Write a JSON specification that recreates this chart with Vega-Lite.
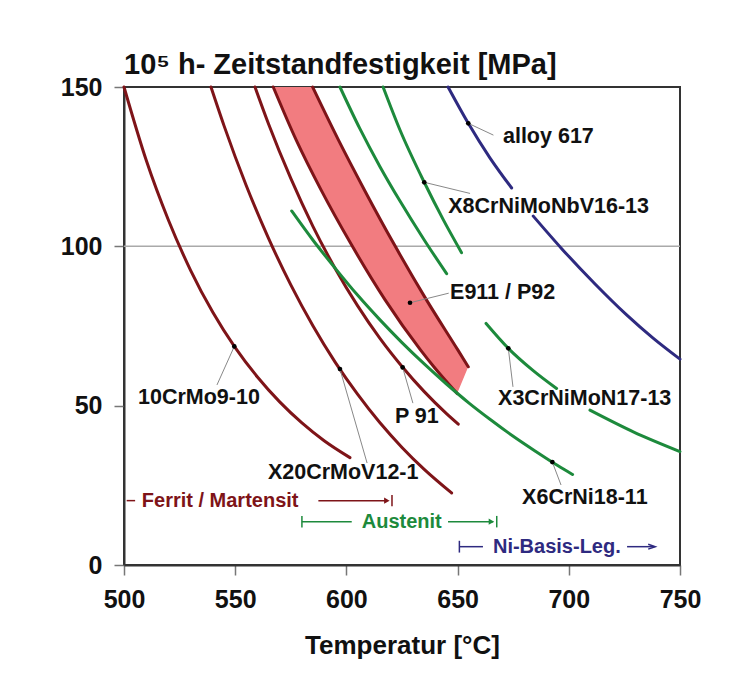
{
  "$schema": "https://vega.github.io/schema/vega-lite/v6.json",
  "autosize": {"type": "none"},
  "width": 556,
  "height": 478,
  "padding": {"left": 124, "top": 87, "right": 63, "bottom": 124},
  "background": "white",
  "config": {
    "font": "Liberation Sans",
    "view": {"stroke": "#333333", "strokeWidth": 2},
    "axis": {
      "labelFont": "Liberation Sans", "labelFontSize": 25, "labelFontWeight": "bold", "labelColor": "#111111",
      "titleFont": "Liberation Sans", "titleFontSize": 26, "titleFontWeight": "bold", "titleColor": "#111111",
      "tickSize": 10, "tickColor": "#777777", "tickWidth": 1.5, "domainColor": "#333333", "domainWidth": 2,
      "grid": false, "labelPadding": 12, "labelFlush": false
    }
  },
  "title": {
    "text": "10⁵ h- Zeitstandfestigkeit [MPa]",
    "anchor": "start", "frame": "group", "font": "Liberation Sans", "fontSize": 29, "fontWeight": "bold",
    "color": "#111111", "offset": 4, "dy": 9
  },
  "datasets": {
    "curves": [
      {"id": "10CrMo9-10", "g": "F", "t": 500, "s": 150},
      {"id": "10CrMo9-10", "g": "F", "t": 510, "s": 127},
      {"id": "10CrMo9-10", "g": "F", "t": 520, "s": 108.2},
      {"id": "10CrMo9-10", "g": "F", "t": 530, "s": 92.4},
      {"id": "10CrMo9-10", "g": "F", "t": 540, "s": 79.2},
      {"id": "10CrMo9-10", "g": "F", "t": 550, "s": 68.2},
      {"id": "10CrMo9-10", "g": "F", "t": 560, "s": 59},
      {"id": "10CrMo9-10", "g": "F", "t": 570, "s": 51.2},
      {"id": "10CrMo9-10", "g": "F", "t": 580, "s": 44.6},
      {"id": "10CrMo9-10", "g": "F", "t": 590, "s": 39},
      {"id": "10CrMo9-10", "g": "F", "t": 601.6, "s": 33.7},
      {"id": "X20CrMoV12-1", "g": "F", "t": 539.1, "s": 150},
      {"id": "X20CrMoV12-1", "g": "F", "t": 545, "s": 137.8},
      {"id": "X20CrMoV12-1", "g": "F", "t": 555, "s": 119},
      {"id": "X20CrMoV12-1", "g": "F", "t": 565, "s": 102.5},
      {"id": "X20CrMoV12-1", "g": "F", "t": 575, "s": 87.9},
      {"id": "X20CrMoV12-1", "g": "F", "t": 585, "s": 75},
      {"id": "X20CrMoV12-1", "g": "F", "t": 595, "s": 63.6},
      {"id": "X20CrMoV12-1", "g": "F", "t": 605, "s": 53.6},
      {"id": "X20CrMoV12-1", "g": "F", "t": 615, "s": 44.7},
      {"id": "X20CrMoV12-1", "g": "F", "t": 625, "s": 36.9},
      {"id": "X20CrMoV12-1", "g": "F", "t": 635, "s": 30},
      {"id": "X20CrMoV12-1", "g": "F", "t": 647.3, "s": 22.6},
      {"id": "P 91", "g": "F", "t": 558.9, "s": 150},
      {"id": "P 91", "g": "F", "t": 565, "s": 138.4},
      {"id": "P 91", "g": "F", "t": 575, "s": 121.3},
      {"id": "P 91", "g": "F", "t": 585, "s": 106.2},
      {"id": "P 91", "g": "F", "t": 595, "s": 93},
      {"id": "P 91", "g": "F", "t": 605, "s": 81.4},
      {"id": "P 91", "g": "F", "t": 615, "s": 71.2},
      {"id": "P 91", "g": "F", "t": 625, "s": 62.3},
      {"id": "P 91", "g": "F", "t": 635, "s": 54.4},
      {"id": "P 91", "g": "F", "t": 645, "s": 47.5},
      {"id": "P 91", "g": "F", "t": 650.3, "s": 44.2},
      {"id": "E911 L", "g": "F", "t": 567.1, "s": 150},
      {"id": "E911 L", "g": "F", "t": 577.4, "s": 133.4},
      {"id": "E911 L", "g": "F", "t": 588.6, "s": 117.7},
      {"id": "E911 L", "g": "F", "t": 602.1, "s": 100.7},
      {"id": "E911 L", "g": "F", "t": 617.4, "s": 83.2},
      {"id": "E911 L", "g": "F", "t": 633.3, "s": 67.5},
      {"id": "E911 L", "g": "F", "t": 639.3, "s": 62.2},
      {"id": "E911 L", "g": "F", "t": 649.8, "s": 53.8},
      {"id": "E911 R", "g": "F", "t": 584.8, "s": 150},
      {"id": "E911 R", "g": "F", "t": 596.4, "s": 133.4},
      {"id": "E911 R", "g": "F", "t": 608.1, "s": 117.7},
      {"id": "E911 R", "g": "F", "t": 621.4, "s": 100.7},
      {"id": "E911 R", "g": "F", "t": 636, "s": 83.2},
      {"id": "E911 R", "g": "F", "t": 650.1, "s": 67.5},
      {"id": "E911 R", "g": "F", "t": 654.8, "s": 62.2},
      {"id": "X6CrNi18-11", "g": "A", "t": 575.4, "s": 111.1},
      {"id": "X6CrNi18-11", "g": "A", "t": 585, "s": 101.9},
      {"id": "X6CrNi18-11", "g": "A", "t": 595, "s": 93.1},
      {"id": "X6CrNi18-11", "g": "A", "t": 605, "s": 84.7},
      {"id": "X6CrNi18-11", "g": "A", "t": 615, "s": 77},
      {"id": "X6CrNi18-11", "g": "A", "t": 625, "s": 69.8},
      {"id": "X6CrNi18-11", "g": "A", "t": 635, "s": 63.1},
      {"id": "X6CrNi18-11", "g": "A", "t": 645, "s": 56.8},
      {"id": "X6CrNi18-11", "g": "A", "t": 655, "s": 50.9},
      {"id": "X6CrNi18-11", "g": "A", "t": 665, "s": 45.5},
      {"id": "X6CrNi18-11", "g": "A", "t": 675, "s": 40.4},
      {"id": "X6CrNi18-11", "g": "A", "t": 685, "s": 35.7},
      {"id": "X6CrNi18-11", "g": "A", "t": 695, "s": 31.2},
      {"id": "X6CrNi18-11", "g": "A", "t": 701.7, "s": 28.4},
      {"id": "Austenit 2", "g": "A", "t": 597.1, "s": 150},
      {"id": "Austenit 2", "g": "A", "t": 606, "s": 137},
      {"id": "Austenit 2", "g": "A", "t": 615.1, "s": 125},
      {"id": "Austenit 2", "g": "A", "t": 624.1, "s": 114.2},
      {"id": "Austenit 2", "g": "A", "t": 635, "s": 102},
      {"id": "Austenit 2", "g": "A", "t": 645.1, "s": 91.4},
      {"id": "X8CrNiMoNbV16-13", "g": "A", "t": 616.5, "s": 150},
      {"id": "X8CrNiMoNbV16-13", "g": "A", "t": 624.1, "s": 136.5},
      {"id": "X8CrNiMoNbV16-13", "g": "A", "t": 635, "s": 120.1},
      {"id": "X8CrNiMoNbV16-13", "g": "A", "t": 643.6, "s": 108.3},
      {"id": "X8CrNiMoNbV16-13", "g": "A", "t": 651.8, "s": 98},
      {"id": "X3CrNiMoN17-13 a", "g": "A", "t": 662.8, "s": 75.8},
      {"id": "X3CrNiMoN17-13 a", "g": "A", "t": 672.8, "s": 68},
      {"id": "X3CrNiMoN17-13 a", "g": "A", "t": 684, "s": 61},
      {"id": "X3CrNiMoN17-13 a", "g": "A", "t": 694.5, "s": 55.4},
      {"id": "X3CrNiMoN17-13 b", "g": "A", "t": 709.5, "s": 48.6},
      {"id": "X3CrNiMoN17-13 b", "g": "A", "t": 729, "s": 41.8},
      {"id": "X3CrNiMoN17-13 b", "g": "A", "t": 750, "s": 35.6},
      {"id": "alloy 617 a", "g": "N", "t": 645.7, "s": 150},
      {"id": "alloy 617 a", "g": "N", "t": 654.8, "s": 138.6},
      {"id": "alloy 617 a", "g": "N", "t": 664.6, "s": 127.7},
      {"id": "alloy 617 a", "g": "N", "t": 674.3, "s": 118.3},
      {"id": "alloy 617 b", "g": "N", "t": 684, "s": 109.5},
      {"id": "alloy 617 b", "g": "N", "t": 696.9, "s": 99.2},
      {"id": "alloy 617 b", "g": "N", "t": 711.8, "s": 88.2},
      {"id": "alloy 617 b", "g": "N", "t": 726, "s": 78.5},
      {"id": "alloy 617 b", "g": "N", "t": 737.9, "s": 71.2},
      {"id": "alloy 617 b", "g": "N", "t": 750, "s": 64.6}
    ],
    "band": [
      {"s": 150, "lo": 567.1, "hi": 584.8},
      {"s": 133.4, "lo": 577.4, "hi": 596.4},
      {"s": 117.7, "lo": 588.6, "hi": 608.1},
      {"s": 100.7, "lo": 602.1, "hi": 621.4},
      {"s": 83.2, "lo": 617.4, "hi": 636},
      {"s": 67.5, "lo": 633.3, "hi": 650.1},
      {"s": 62.2, "lo": 639.3, "hi": 654.8},
      {"s": 53.8, "lo": 649.8, "hi": 649.8}
    ],
    "labels": [
      {"name": "alloy 617", "dt": 654.8, "ds": 138.6, "lt": 666.1, "ls": 134.9, "tt": 670.4, "ts": 134.4},
      {"name": "X8CrNiMoNbV16-13", "dt": 635, "ds": 120.1, "lt": 655.6, "ls": 116.6, "tt": 645.8, "ts": 112.4},
      {"name": "E911 / P92", "dt": 628.6, "ds": 82.3, "lt": 646, "ls": 85.3, "tt": 646.6, "ts": 85.3},
      {"name": "10CrMo9-10", "dt": 549.6, "ds": 68.6, "lt": 541.8, "ls": 56.5, "tt": 506.3, "ts": 52.4},
      {"name": "X20CrMoV12-1", "dt": 597.1, "ds": 61.5, "lt": 609.3, "ls": 32, "tt": 564.7, "ts": 28.9},
      {"name": "P 91", "dt": 625.3, "ds": 62, "lt": 629.9, "ls": 50.8, "tt": 621.8, "ts": 46.4},
      {"name": "X3CrNiMoN17-13", "dt": 672.8, "ds": 68, "lt": 674.9, "ls": 55.9, "tt": 668.2, "ts": 52.1},
      {"name": "X6CrNi18-11", "dt": 692.6, "ds": 32.3, "lt": 696.5, "ls": 25.1, "tt": 679, "ts": 21}
    ],
    "rangeLines": [
      {"g": "F", "t": 501.2, "t2": 505, "s": 20.2, "s2": 20.2},
      {"g": "F", "t": 587.4, "t2": 618, "s": 20.2, "s2": 20.2},
      {"g": "F", "t": 620.5, "t2": 620.5, "s": 18.4, "s2": 22},
      {"g": "A", "t": 580, "t2": 580, "s": 11.8, "s2": 15.4},
      {"g": "A", "t": 580, "t2": 602.4, "s": 13.6, "s2": 13.6},
      {"g": "A", "t": 645.7, "t2": 666, "s": 13.6, "s2": 13.6},
      {"g": "A", "t": 667.6, "t2": 667.6, "s": 11.8, "s2": 15.4},
      {"g": "N", "t": 650.8, "t2": 650.8, "s": 3.9, "s2": 7.6},
      {"g": "N", "t": 650.8, "t2": 661.4, "s": 5.75, "s2": 5.75},
      {"g": "N", "t": 726.2, "t2": 738.5, "s": 5.75, "s2": 5.75}
    ],
    "rangeText": [
      {"g": "F", "name": "Ferrit / Martensit", "t": 508, "s": 20.2},
      {"g": "A", "name": "Austenit", "t": 606.9, "s": 13.6},
      {"g": "N", "name": "Ni-Basis-Leg.", "t": 665.9, "s": 5.75}
    ],
    "arrowHeads": [
      {"g": "F", "t": 618.2, "s": 20.2},
      {"g": "A", "t": 665.2, "s": 13.6}
    ],
    "arrowOpen": [
      {"g": "N", "t": 737.3, "s": 5.75}
    ]
  },
  "encoding": {
    "x": {"type": "quantitative", "scale": {"domain": [500, 750], "nice": false, "zero": false}},
    "y": {"type": "quantitative", "scale": {"domain": [0, 150], "nice": false, "zero": false}}
  },
  "layer": [
    {
      "data": {"values": [{"s": 100}]},
      "mark": {"type": "rule", "color": "#aaaaaa", "strokeWidth": 1.5},
      "encoding": {"y": {"field": "s", "type": "quantitative"}}
    },
    {
      "data": {"name": "band"},
      "mark": {"type": "area", "orient": "horizontal", "color": "#f27c80", "opacity": 1, "interpolate": "linear"},
      "encoding": {
        "y": {"field": "s", "type": "quantitative"},
        "x": {"field": "lo", "type": "quantitative", "axis": {"title": "Temperatur [°C]", "values": [500, 550, 600, 650, 700, 750], "titlePadding": 20}},
        "x2": {"field": "hi"}
      }
    },
    {
      "data": {"name": "curves"},
      "mark": {"type": "line", "strokeWidth": 3, "interpolate": "monotone", "strokeCap": "round"},
      "encoding": {
        "x": {"field": "t", "type": "quantitative"},
        "y": {"field": "s", "type": "quantitative", "axis": {"title": null, "values": [0, 50, 100, 150]}},
        "detail": {"field": "id"},
        "color": {"field": "g", "type": "nominal", "legend": null, "scale": {"domain": ["F", "A", "N"], "range": ["#7e1418", "#1d8a3c", "#2e2a80"]}}
      }
    },
    {
      "data": {"name": "labels"},
      "mark": {"type": "rule", "color": "#888888", "strokeWidth": 1},
      "encoding": {
        "x": {"field": "dt", "type": "quantitative"},
        "y": {"field": "ds", "type": "quantitative"},
        "x2": {"field": "lt"},
        "y2": {"field": "ls"}
      }
    },
    {
      "data": {"name": "labels"},
      "mark": {"type": "point", "filled": true, "color": "#000000", "size": 22, "opacity": 1},
      "encoding": {
        "x": {"field": "dt", "type": "quantitative"},
        "y": {"field": "ds", "type": "quantitative"}
      }
    },
    {
      "data": {"name": "labels"},
      "mark": {"type": "text", "align": "left", "baseline": "middle", "fontSize": 21.5, "fontWeight": "bold", "color": "#111111", "font": "Liberation Sans"},
      "encoding": {
        "x": {"field": "tt", "type": "quantitative"},
        "y": {"field": "ts", "type": "quantitative"},
        "text": {"field": "name"}
      }
    },
    {
      "data": {"name": "rangeLines"},
      "mark": {"type": "rule", "strokeWidth": 1.5},
      "encoding": {
        "x": {"field": "t", "type": "quantitative"},
        "x2": {"field": "t2"},
        "y": {"field": "s", "type": "quantitative"},
        "y2": {"field": "s2"},
        "color": {"field": "g", "type": "nominal", "legend": null, "scale": {"domain": ["F", "A", "N"], "range": ["#7e1418", "#1d8a3c", "#2e2a80"]}}
      }
    },
    {
      "data": {"name": "arrowHeads"},
      "mark": {"type": "point", "shape": "triangle-right", "filled": true, "size": 40, "opacity": 1},
      "encoding": {
        "x": {"field": "t", "type": "quantitative"},
        "y": {"field": "s", "type": "quantitative"},
        "color": {"field": "g", "type": "nominal", "legend": null, "scale": {"domain": ["F", "A", "N"], "range": ["#7e1418", "#1d8a3c", "#2e2a80"]}}
      }
    },
    {
      "data": {"name": "arrowOpen"},
      "mark": {"type": "point", "shape": "M -1 -0.7 L 1 0 L -1 0.7", "filled": false, "size": 50, "strokeWidth": 1.5, "opacity": 1, "color": "#2e2a80"},
      "encoding": {
        "x": {"field": "t", "type": "quantitative"},
        "y": {"field": "s", "type": "quantitative"}
      }
    },
    {
      "data": {"name": "rangeText"},
      "mark": {"type": "text", "align": "left", "baseline": "middle", "fontSize": 20, "fontWeight": "bold", "font": "Liberation Sans"},
      "encoding": {
        "x": {"field": "t", "type": "quantitative"},
        "y": {"field": "s", "type": "quantitative"},
        "text": {"field": "name"},
        "color": {"field": "g", "type": "nominal", "legend": null, "scale": {"domain": ["F", "A", "N"], "range": ["#8c1c26", "#1e8c3e", "#2f2d80"]}}
      }
    }
  ]
}
